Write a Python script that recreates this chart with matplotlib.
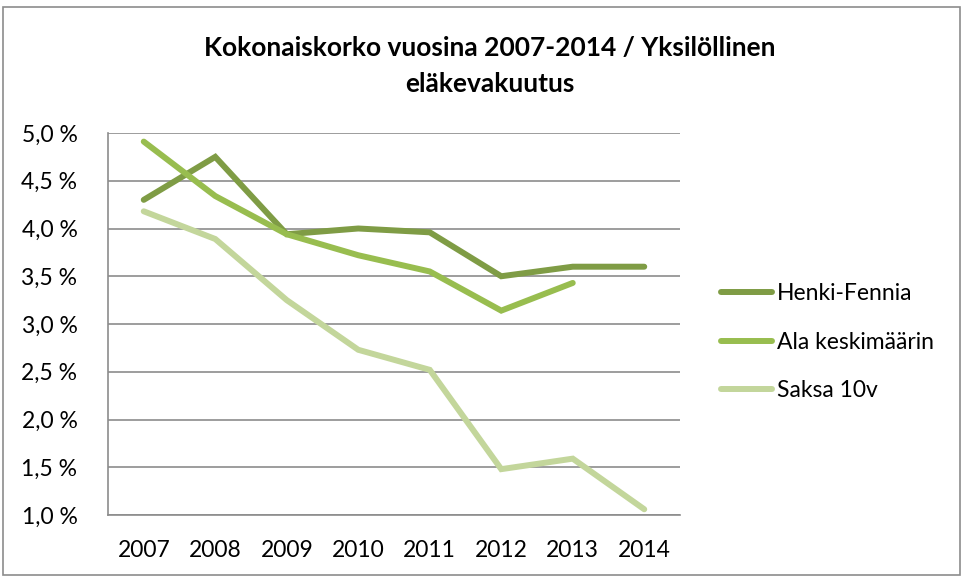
import matplotlib
matplotlib.use("Agg")
import matplotlib.pyplot as plt
from matplotlib.patches import Rectangle
from matplotlib.ticker import FuncFormatter

years = ["2007", "2008", "2009", "2010", "2011", "2012", "2013", "2014"]
henki_fennia = [4.30, 4.75, 3.94, 4.00, 3.96, 3.50, 3.60, 3.60]
ala_keskimaarin = [4.91, 4.34, 3.94, 3.72, 3.55, 3.14, 3.43]
saksa_10v = [4.18, 3.89, 3.25, 2.73, 2.52, 1.48, 1.59, 1.06]
series_names = ["Henki-Fennia", "Ala keskimäärin", "Saksa 10v"]
colors = ["#7F9C45", "#98BD4F", "#C3D69B"]
title = "Kokonaiskorko vuosina 2007-2014 / Yksilöllinen\neläkevakuutus"

plt.rcParams['font.family'] = ['Lato', 'DejaVu Sans']

fig = plt.figure(figsize=(9.63, 5.77), dpi=100)
ax = fig.add_axes([108/963, 1-515/577, (680-108)/963, (515-133)/577])

x = list(range(len(years)))
for name, vals, c in zip(series_names, [henki_fennia, ala_keskimaarin, saksa_10v], colors):
    ax.plot(x[:len(vals)], vals, color=c, lw=4.3, solid_capstyle='round',
            solid_joinstyle='miter', label=name)

ax.set_xlim(-0.5, len(years) - 0.5)
ax.set_ylim(1.0, 5.0)
ax.set_yticks([1.0, 1.5, 2.0, 2.5, 3.0, 3.5, 4.0, 4.5, 5.0])
ax.yaxis.set_major_formatter(FuncFormatter(lambda v, p: f"{v:.1f}".replace('.', ',') + " %"))
ax.set_xticks(x)
ax.set_xticklabels(years)
ax.grid(axis='y', color='#8C8C8C', lw=1.2)
ax.set_axisbelow(True)
for s in ['top', 'right']:
    ax.spines[s].set_visible(False)
ax.spines['left'].set_color('#8C8C8C')
ax.spines['bottom'].set_color('#8C8C8C')
ax.spines['left'].set_linewidth(1.2)
ax.spines['bottom'].set_linewidth(1.2)
ax.tick_params(axis='both', length=0, labelsize=16.5, colors='black')
ax.tick_params(axis='y', pad=22)
ax.tick_params(axis='x', pad=18)

fig.text(490/963, 1-66/577, title, ha='center', va='center', fontsize=19,
         fontweight='bold', linespacing=1.6)

leg = ax.legend(loc='center left', bbox_to_anchor=(1.036, 0.452), frameon=False,
                fontsize=16.5, handlelength=2.2, handletextpad=0.25, labelspacing=1.2)

fig.patches.append(Rectangle((3/963, 2/577), 957/963, 1-9/577, transform=fig.transFigure,
                             fill=False, edgecolor='#8C8C8C', lw=1.2))

fig.savefig("out.png", dpi=100)
